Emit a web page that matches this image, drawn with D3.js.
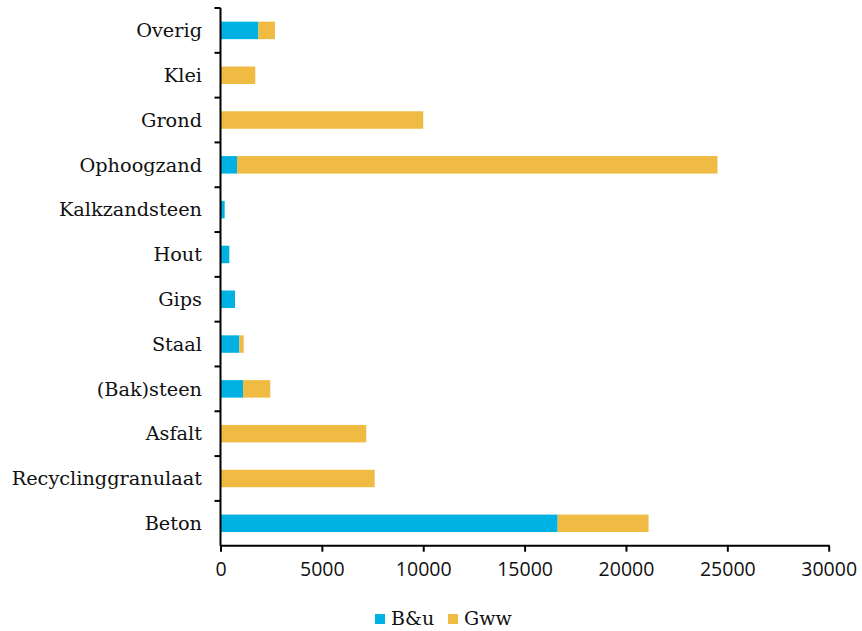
<!DOCTYPE html>
<html>
<head>
<meta charset="utf-8">
<script src="https://cdn.jsdelivr.net/npm/d3@7"></script>
<style>
  html, body { margin: 0; padding: 0; background: #fff; }
  svg { display: block; }
</style>
</head>
<body>
<svg id="chart" width="862" height="631"></svg>
<script>
// Materials, listed bottom to top as stacked bars
const categories = ["Beton", "Recyclinggranulaat", "Asfalt", "(Bak)steen", "Staal", "Gips",
  "Hout", "Kalkzandsteen", "Ophoogzand", "Grond", "Klei", "Overig"];
const bu  = [16630, 0, 0, 1110, 930, 715, 435, 205, 815, 0, 0, 1865];
const gww = [4485, 7605, 7190, 1345, 215, 0, 0, 0, 23700, 10000, 1715, 820];
const seriesNames = ["B&u", "Gww"];
const xTicks = [0, 5000, 10000, 15000, 20000, 25000, 30000];

const colors = { "B&u": "#00b1e4", "Gww": "#f0bb43" };

const svg = d3.select("#chart");
const x0 = 220.5, x1 = 828.7, yTop = 8, yBot = 545.7;

const rows = categories.map((c, i) => ({ cat: c, "B&u": bu[i], "Gww": gww[i] }));
const stacked = d3.stack().keys(seriesNames)(rows);

const x = d3.scaleLinear().domain([0, 30000]).range([x0, x1]);
const y = d3.scaleBand().domain(categories.slice().reverse()).range([yTop, yBot]).paddingInner(0.61).paddingOuter(0.305);
const yAxisScale = d3.scaleBand().domain(categories.slice().reverse()).range([yTop, yBot]);

// Bars
svg.append("g").selectAll("g").data(stacked).join("g")
  .attr("fill", d => colors[d.key])
  .selectAll("rect").data(d => d.filter(p => p[1] - p[0] > 0)).join("rect")
  .attr("x", p => x(p[0]))
  .attr("width", p => x(p[1]) - x(p[0]))
  .attr("y", p => y(p.data.cat))
  .attr("height", y.bandwidth());

// Y axis: line and tick marks on band boundaries
const yg = svg.append("g");
yg.append("line").attr("x1", x0).attr("x2", x0).attr("y1", yTop).attr("y2", yBot)
  .attr("stroke", "#000").attr("stroke-width", 2);
const boundaries = yAxisScale.domain().map(c => yAxisScale(c));
yg.selectAll("line.tk").data(boundaries).join("line").attr("class", "tk")
  .attr("x1", x0 - 6).attr("x2", x0).attr("y1", d => d).attr("y2", d => d)
  .attr("stroke", "#000").attr("stroke-width", 2);
yg.selectAll("text").data(categories).join("text")
  .attr("x", 202)
  .attr("y", c => yAxisScale(c) + yAxisScale.bandwidth() / 2)
  .attr("dy", "0.35em")
  .attr("text-anchor", "end")
  .attr("font-family", "'DejaVu Serif', serif")
  .attr("font-size", 19.3)
  .attr("fill", "#111")
  .text(c => c);

// X axis
const xg = svg.append("g").attr("transform", `translate(0,${yBot})`)
  .call(d3.axisBottom(x).tickValues(xTicks).tickSize(6).tickPadding(10).tickFormat(d3.format("d")));
xg.select(".domain").attr("stroke", "#000").attr("stroke-width", 2)
  .attr("d", `M${x0},0H${x1 + 1}`);
xg.selectAll(".tick line").attr("stroke", "#000").attr("stroke-width", 2);
xg.selectAll(".tick text").attr("font-family", "'Open Sans', sans-serif").attr("font-size", 19.5).attr("fill", "#111");

// Legend
const legend = svg.append("g");
const legendItems = [{ name: "B&u", x: 375 }, { name: "Gww", x: 448 }];
legend.selectAll("rect").data(legendItems).join("rect")
  .attr("x", d => d.x).attr("y", 614).attr("width", 10).attr("height", 10)
  .attr("fill", d => colors[d.name]);
legend.selectAll("text").data(legendItems).join("text")
  .attr("x", d => d.x + 16).attr("y", 625)
  .attr("font-family", "'DejaVu Serif', serif").attr("font-size", 19).attr("fill", "#111")
  .text(d => d.name);
</script>
</body>
</html>
